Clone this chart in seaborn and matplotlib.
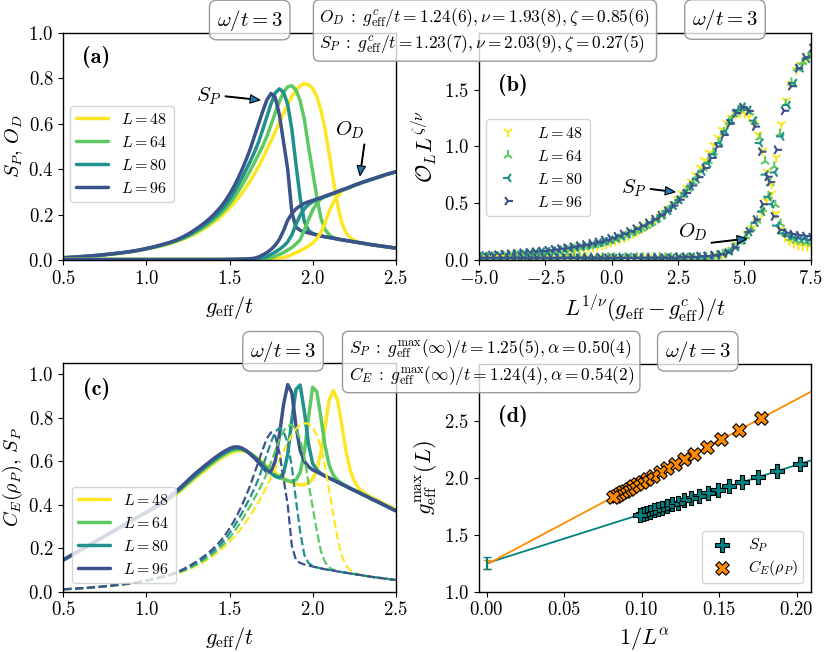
import numpy as np
import pandas as pd
import seaborn as sns
import matplotlib.pyplot as plt

sns.set_style("ticks", {"axes.edgecolor": "black", "text.color": "black",
                        "axes.labelcolor": "black", "xtick.color": "black",
                        "ytick.color": "black"})
plt.rcParams["font.family"] = "serif"
plt.rcParams["font.serif"] = ["cmr10"]
plt.rcParams["mathtext.fontset"] = "cm"
plt.rcParams["axes.formatter.use_mathtext"] = True
plt.rcParams["axes.unicode_minus"] = True

# ---- data ---------------------------------------------------------------
g_eff = np.linspace(0.5, 2.5, 81)  # g_eff/t sampling grid
L_sizes = [48, 64, 80, 96]

# S_P(g) per system size
sp_48 = [0.011, 0.012, 0.013, 0.014, 0.015, 0.016, 0.017, 0.019, 0.020, 0.022,
         0.024, 0.025, 0.027, 0.029, 0.032, 0.034, 0.036, 0.039, 0.042, 0.046,
         0.049, 0.053, 0.057, 0.061, 0.065, 0.070, 0.075, 0.081, 0.087, 0.094,
         0.102, 0.110, 0.119, 0.129, 0.140, 0.152, 0.165, 0.179, 0.194, 0.211,
         0.230, 0.250, 0.272, 0.296, 0.322, 0.350, 0.380, 0.412, 0.448, 0.487,
         0.525, 0.565, 0.605, 0.645, 0.685, 0.720, 0.748, 0.767, 0.775, 0.772,
         0.755, 0.720, 0.660, 0.575, 0.465, 0.350, 0.245, 0.165, 0.122, 0.100,
         0.088, 0.080, 0.075, 0.072, 0.069, 0.066, 0.064, 0.061, 0.059, 0.056,
         0.054]
sp_64 = [0.011, 0.012, 0.013, 0.014, 0.015, 0.016, 0.018, 0.019, 0.021, 0.022,
         0.024, 0.026, 0.028, 0.030, 0.033, 0.035, 0.037, 0.040, 0.043, 0.047,
         0.050, 0.054, 0.058, 0.062, 0.067, 0.072, 0.077, 0.083, 0.090, 0.097,
         0.105, 0.114, 0.124, 0.135, 0.147, 0.160, 0.174, 0.190, 0.207, 0.226,
         0.248, 0.272, 0.300, 0.330, 0.362, 0.395, 0.430, 0.465, 0.502, 0.545,
         0.595, 0.648, 0.698, 0.738, 0.762, 0.767, 0.748, 0.700, 0.620, 0.500,
         0.390, 0.280, 0.185, 0.135, 0.112, 0.099, 0.094, 0.090, 0.087, 0.084,
         0.081, 0.078, 0.075, 0.072, 0.069, 0.066, 0.064, 0.061, 0.059, 0.056,
         0.054]
sp_80 = [0.011, 0.012, 0.013, 0.014, 0.016, 0.017, 0.018, 0.020, 0.021, 0.023,
         0.025, 0.027, 0.029, 0.031, 0.033, 0.035, 0.038, 0.041, 0.044, 0.047,
         0.051, 0.055, 0.059, 0.064, 0.069, 0.074, 0.080, 0.086, 0.093, 0.101,
         0.110, 0.120, 0.131, 0.143, 0.156, 0.170, 0.185, 0.202, 0.221, 0.243,
         0.268, 0.296, 0.328, 0.362, 0.398, 0.435, 0.475, 0.520, 0.575, 0.632,
         0.688, 0.735, 0.753, 0.738, 0.685, 0.575, 0.420, 0.275, 0.170, 0.132,
         0.118, 0.112, 0.107, 0.103, 0.100, 0.097, 0.093, 0.090, 0.087, 0.084,
         0.081, 0.078, 0.075, 0.072, 0.069, 0.066, 0.064, 0.061, 0.059, 0.056,
         0.054]
sp_96 = [0.011, 0.012, 0.013, 0.014, 0.016, 0.017, 0.018, 0.020, 0.021, 0.023,
         0.025, 0.027, 0.029, 0.031, 0.033, 0.036, 0.038, 0.041, 0.044, 0.048,
         0.052, 0.056, 0.060, 0.065, 0.070, 0.075, 0.081, 0.088, 0.096, 0.105,
         0.115, 0.126, 0.138, 0.151, 0.165, 0.180, 0.197, 0.216, 0.237, 0.262,
         0.290, 0.322, 0.358, 0.398, 0.442, 0.490, 0.545, 0.600, 0.655, 0.705,
         0.733, 0.715, 0.640, 0.520, 0.400, 0.210, 0.145, 0.132, 0.125, 0.120,
         0.116, 0.111, 0.107, 0.103, 0.100, 0.097, 0.093, 0.090, 0.087, 0.084,
         0.081, 0.078, 0.075, 0.072, 0.069, 0.066, 0.064, 0.061, 0.059, 0.056,
         0.054]

# O_D(g) per system size
od_48 = [0.004, 0.004, 0.004, 0.004, 0.004, 0.004, 0.004, 0.004, 0.004, 0.004,
         0.004, 0.004, 0.004, 0.004, 0.004, 0.004, 0.004, 0.004, 0.004, 0.004,
         0.004, 0.004, 0.004, 0.004, 0.004, 0.004, 0.004, 0.004, 0.004, 0.004,
         0.004, 0.004, 0.004, 0.004, 0.004, 0.004, 0.004, 0.004, 0.004, 0.004,
         0.004, 0.004, 0.004, 0.004, 0.004, 0.004, 0.004, 0.004, 0.004, 0.004,
         0.005, 0.007, 0.009, 0.013, 0.017, 0.025, 0.034, 0.042, 0.051, 0.062,
         0.075, 0.095, 0.122, 0.164, 0.217, 0.255, 0.282, 0.304, 0.313, 0.320,
         0.328, 0.335, 0.342, 0.348, 0.354, 0.360, 0.366, 0.372, 0.378, 0.383,
         0.388]
od_64 = [0.004, 0.004, 0.004, 0.004, 0.004, 0.004, 0.004, 0.004, 0.004, 0.004,
         0.004, 0.004, 0.004, 0.004, 0.004, 0.004, 0.004, 0.004, 0.004, 0.004,
         0.004, 0.004, 0.004, 0.004, 0.004, 0.004, 0.004, 0.004, 0.004, 0.004,
         0.004, 0.004, 0.004, 0.004, 0.004, 0.004, 0.004, 0.004, 0.004, 0.004,
         0.004, 0.004, 0.004, 0.004, 0.004, 0.004, 0.005, 0.006, 0.007, 0.009,
         0.011, 0.018, 0.026, 0.034, 0.045, 0.056, 0.072, 0.090, 0.132, 0.178,
         0.220, 0.250, 0.270, 0.279, 0.286, 0.293, 0.300, 0.307, 0.314, 0.321,
         0.328, 0.335, 0.342, 0.348, 0.354, 0.360, 0.366, 0.372, 0.378, 0.383,
         0.388]
od_80 = [0.003, 0.003, 0.003, 0.003, 0.003, 0.003, 0.003, 0.003, 0.003, 0.003,
         0.003, 0.003, 0.003, 0.003, 0.003, 0.003, 0.003, 0.003, 0.003, 0.003,
         0.003, 0.003, 0.003, 0.003, 0.003, 0.003, 0.003, 0.003, 0.003, 0.003,
         0.003, 0.003, 0.003, 0.003, 0.003, 0.003, 0.003, 0.003, 0.003, 0.003,
         0.003, 0.003, 0.004, 0.004, 0.004, 0.005, 0.006, 0.008, 0.012, 0.017,
         0.026, 0.036, 0.048, 0.062, 0.081, 0.112, 0.158, 0.198, 0.226, 0.245,
         0.257, 0.266, 0.273, 0.280, 0.287, 0.294, 0.301, 0.308, 0.314, 0.321,
         0.329, 0.335, 0.342, 0.348, 0.354, 0.360, 0.366, 0.372, 0.378, 0.383,
         0.388]
od_96 = [0.003, 0.003, 0.003, 0.003, 0.003, 0.003, 0.003, 0.003, 0.003, 0.003,
         0.003, 0.003, 0.003, 0.003, 0.003, 0.003, 0.003, 0.003, 0.003, 0.003,
         0.003, 0.003, 0.003, 0.003, 0.003, 0.003, 0.003, 0.003, 0.003, 0.003,
         0.003, 0.003, 0.003, 0.003, 0.003, 0.003, 0.003, 0.003, 0.003, 0.004,
         0.004, 0.004, 0.005, 0.005, 0.006, 0.007, 0.009, 0.015, 0.024, 0.034,
         0.048, 0.066, 0.092, 0.130, 0.176, 0.205, 0.226, 0.239, 0.250, 0.257,
         0.263, 0.269, 0.275, 0.282, 0.289, 0.295, 0.302, 0.309, 0.315, 0.322,
         0.330, 0.336, 0.343, 0.349, 0.355, 0.361, 0.367, 0.373, 0.379, 0.384,
         0.389]

# C_E(rho_P)(g) per system size
ce_48 = [0.146, 0.157, 0.168, 0.179, 0.190, 0.201, 0.212, 0.223, 0.234, 0.245,
         0.256, 0.267, 0.278, 0.289, 0.300, 0.310, 0.321, 0.332, 0.343, 0.353,
         0.363, 0.374, 0.385, 0.396, 0.407, 0.419, 0.432, 0.446, 0.461, 0.477,
         0.493, 0.510, 0.526, 0.542, 0.557, 0.572, 0.587, 0.601, 0.614, 0.626,
         0.636, 0.643, 0.647, 0.648, 0.644, 0.636, 0.624, 0.610, 0.595, 0.579,
         0.563, 0.548, 0.534, 0.521, 0.510, 0.501, 0.495, 0.491, 0.492, 0.500,
         0.518, 0.560, 0.640, 0.760, 0.880, 0.925, 0.880, 0.770, 0.650, 0.560,
         0.510, 0.478, 0.460, 0.447, 0.436, 0.426, 0.416, 0.406, 0.397, 0.388,
         0.379]
ce_64 = [0.146, 0.157, 0.168, 0.179, 0.190, 0.201, 0.212, 0.223, 0.234, 0.245,
         0.256, 0.267, 0.278, 0.289, 0.300, 0.311, 0.322, 0.333, 0.344, 0.354,
         0.364, 0.375, 0.386, 0.397, 0.409, 0.422, 0.436, 0.451, 0.467, 0.483,
         0.500, 0.517, 0.533, 0.549, 0.565, 0.580, 0.595, 0.609, 0.622, 0.634,
         0.644, 0.651, 0.655, 0.653, 0.646, 0.635, 0.621, 0.605, 0.588, 0.570,
         0.553, 0.538, 0.526, 0.517, 0.510, 0.507, 0.514, 0.548, 0.640, 0.800,
         0.940, 0.920, 0.800, 0.670, 0.580, 0.535, 0.512, 0.498, 0.487, 0.477,
         0.467, 0.458, 0.448, 0.439, 0.429, 0.420, 0.411, 0.401, 0.392, 0.382,
         0.373]
ce_80 = [0.146, 0.157, 0.168, 0.179, 0.190, 0.201, 0.212, 0.223, 0.234, 0.245,
         0.256, 0.267, 0.278, 0.289, 0.300, 0.311, 0.322, 0.333, 0.344, 0.355,
         0.365, 0.376, 0.387, 0.399, 0.412, 0.425, 0.439, 0.455, 0.471, 0.488,
         0.506, 0.523, 0.540, 0.556, 0.572, 0.587, 0.602, 0.616, 0.629, 0.641,
         0.651, 0.658, 0.660, 0.657, 0.648, 0.635, 0.619, 0.601, 0.582, 0.563,
         0.545, 0.530, 0.523, 0.545, 0.630, 0.790, 0.930, 0.950, 0.830, 0.680,
         0.590, 0.560, 0.543, 0.532, 0.522, 0.513, 0.504, 0.494, 0.485, 0.475,
         0.466, 0.457, 0.447, 0.438, 0.428, 0.419, 0.410, 0.400, 0.391, 0.381,
         0.372]
ce_96 = [0.146, 0.157, 0.168, 0.179, 0.190, 0.201, 0.212, 0.223, 0.234, 0.245,
         0.256, 0.267, 0.278, 0.289, 0.300, 0.311, 0.322, 0.333, 0.344, 0.355,
         0.366, 0.377, 0.389, 0.401, 0.414, 0.428, 0.443, 0.459, 0.476, 0.494,
         0.512, 0.530, 0.547, 0.563, 0.579, 0.594, 0.609, 0.623, 0.636, 0.648,
         0.658, 0.665, 0.666, 0.660, 0.648, 0.632, 0.614, 0.594, 0.572, 0.550,
         0.552, 0.600, 0.720, 0.860, 0.952, 0.915, 0.760, 0.650, 0.600, 0.575,
         0.560, 0.551, 0.541, 0.532, 0.522, 0.513, 0.504, 0.494, 0.485, 0.475,
         0.466, 0.457, 0.447, 0.438, 0.428, 0.419, 0.410, 0.400, 0.391, 0.381,
         0.372]

# finite-size scaling parameters quoted in the figure
gc_od, nu_od, zeta_od = 1.24, 1.93, 0.85
gc_sp, nu_sp, zeta_sp = 1.23, 2.03, 0.27

# panel (d): peak positions vs 1/L^alpha
L_peak = [24, 28, 32, 36, 40, 44, 48, 52, 56, 60,
          64, 68, 72, 76, 80, 84, 88, 92, 96, 100]
gmax_sp = [2.121, 2.056, 2.004, 1.961, 1.924, 1.893, 1.865, 1.840, 1.819, 1.800,
           1.782, 1.766, 1.751, 1.738, 1.725, 1.714, 1.703, 1.693, 1.684, 1.675]
gmax_ce = [2.521, 2.418, 2.335, 2.267, 2.209, 2.161, 2.118, 2.081, 2.047, 2.018,
           1.990, 1.966, 1.944, 1.923, 1.905, 1.887, 1.871, 1.856, 1.842, 1.829]
alpha_sp, alpha_ce = 0.503, 0.545
fit_sp = (1.25, 4.31)   # intercept, slope
fit_ce = (1.24, 7.24)
err_sp, err_ce = 0.05, 0.04

labels = [rf"$L = {L}$" for L in L_sizes]
palette = ["#fde725", "#5ec962", "#21918c", "#3b528b"]

frames = []
for L, lab, sp, od, ce in zip(L_sizes, labels, [sp_48, sp_64, sp_80, sp_96],
                              [od_48, od_64, od_80, od_96],
                              [ce_48, ce_64, ce_80, ce_96]):
    frames.append(pd.DataFrame({"g": g_eff, "L": lab, "size": L,
                                "S_P": sp, "O_D": od, "C_E": ce}))
df = pd.concat(frames, ignore_index=True)

df["x_sp"] = df["size"] ** (1 / nu_sp) * (df["g"] - gc_sp)
df["y_sp"] = df["S_P"] * df["size"] ** (zeta_sp / nu_sp)
df["x_od"] = df["size"] ** (1 / nu_od) * (df["g"] - gc_od)
df["y_od"] = df["O_D"] * df["size"] ** (zeta_od / nu_od)

peaks = pd.DataFrame({"L": L_peak, "gmax_sp": gmax_sp, "gmax_ce": gmax_ce})
peaks["x_sp"] = 1 / peaks["L"] ** alpha_sp
peaks["x_ce"] = 1 / peaks["L"] ** alpha_ce
fit = pd.DataFrame({"x": [0.0, 0.22]})
fit["sp"] = fit_sp[0] + fit_sp[1] * fit["x"]
fit["ce"] = fit_ce[0] + fit_ce[1] * fit["x"]

# ---- figure ---------------------------------------------------------------
fig = plt.figure(figsize=(8.31, 6.52), dpi=100)
ax_a = fig.add_axes([0.0762, 0.6008, 0.4000, 0.3491])
ax_b = fig.add_axes([0.5764, 0.6008, 0.3992, 0.3491])
ax_c = fig.add_axes([0.0762, 0.0925, 0.4000, 0.3503])
ax_d = fig.add_axes([0.5764, 0.0925, 0.3992, 0.3497])

tick_fs, label_fs, ylab_fs, leg_fs = 13.5, 16, 14.5, 11.5
arrow = dict(facecolor="C0", edgecolor="black", width=0.6, headwidth=6,
             headlength=7, lw=0.8)
panel_font = dict(fontfamily="cmb10", fontsize=16, ha="center", va="center")

# (a)
sns.lineplot(data=df, x="g", y="S_P", hue="L", hue_order=labels, palette=palette,
             lw=2.5, errorbar=None, legend=False, ax=ax_a)
sns.lineplot(data=df, x="g", y="O_D", hue="L", hue_order=labels, palette=palette,
             lw=2.5, errorbar=None, legend=False, ax=ax_a)
ax_a.legend(ax_a.lines[:4], labels, loc="upper left", bbox_to_anchor=(0.02, 0.68),
            borderaxespad=0, fontsize=leg_fs)
ax_a.set(xlim=(0.5, 2.5), ylim=(0, 1.0))
ax_a.set_xticks([0.5, 1.0, 1.5, 2.0, 2.5])
ax_a.set_yticks([0.0, 0.2, 0.4, 0.6, 0.8, 1.0])
ax_a.set_xlabel(r"$g_{\rm eff}/t$", fontsize=label_fs)
ax_a.set_ylabel(r"$S_P$, $O_D$", fontsize=ylab_fs, labelpad=2)
ax_a.annotate(r"$S_P$", xy=(1.683, 0.704), xytext=(1.377, 0.722), ha="center",
              va="center", fontsize=15, arrowprops=arrow)
ax_a.annotate(r"$O_D$", xy=(2.285, 0.372), xytext=(2.225, 0.572), ha="center",
              va="center", fontsize=15, arrowprops=arrow)
ax_a.text(0.10, 0.893, "(a)", transform=ax_a.transAxes, **panel_font)

# (b)
markers = dict(zip(labels, ["1", "2", "3", "4"]))
sns.scatterplot(data=df, x="x_sp", y="y_sp", hue="L", style="L", hue_order=labels,
                style_order=labels, palette=palette, markers=markers, s=55,
                linewidth=1.5, edgecolor=None, ax=ax_b)
sns.scatterplot(data=df, x="x_od", y="y_od", hue="L", style="L", hue_order=labels,
                style_order=labels, palette=palette, markers=markers, s=55,
                linewidth=1.5, edgecolor=None, legend=False, ax=ax_b)
sns.move_legend(ax_b, "upper left", bbox_to_anchor=(0.021, 0.62), borderaxespad=0,
                title=None, fontsize=leg_fs, frameon=True)
ax_b.set(xlim=(-5, 7.5), ylim=(0, 2.0))
ax_b.set_xticks([-5.0, -2.5, 0.0, 2.5, 5.0, 7.5])
ax_b.set_yticks([0.0, 0.5, 1.0, 1.5])
ax_b.set_xlabel(r"$L^{1/\nu}(g_{\rm eff} - g^c_{\rm eff})/t$", fontsize=label_fs)
ax_b.set_ylabel(r"$\mathcal{O}_L L^{\zeta/\nu}$", fontsize=label_fs)
ax_b.annotate(r"$S_P$", xy=(2.385, 0.60), xytext=(0.85, 0.63), ha="center",
              va="center", fontsize=15, arrowprops=arrow)
ax_b.annotate(r"$O_D$", xy=(5.09, 0.19), xytext=(3.07, 0.245), ha="center",
              va="center", fontsize=15, arrowprops=arrow)
ax_b.text(0.103, 0.77, "(b)", transform=ax_b.transAxes, **panel_font)

# (c)
sns.lineplot(data=df, x="g", y="C_E", hue="L", hue_order=labels, palette=palette,
             lw=2.5, errorbar=None, legend=False, ax=ax_c)
sns.lineplot(data=df, x="g", y="S_P", hue="L", hue_order=labels, palette=palette,
             lw=1.6, linestyle="--", errorbar=None, legend=False, ax=ax_c)
ax_c.legend(ax_c.lines[:4], labels, loc="lower left", bbox_to_anchor=(0.025, 0.037),
            borderaxespad=0, fontsize=leg_fs)
ax_c.set(xlim=(0.5, 2.5), ylim=(0, 1.05))
ax_c.set_xticks([0.5, 1.0, 1.5, 2.0, 2.5])
ax_c.set_yticks([0.0, 0.2, 0.4, 0.6, 0.8, 1.0])
ax_c.set_xlabel(r"$g_{\rm eff}/t$", fontsize=label_fs)
ax_c.set_ylabel(r"$C_E(\rho_P)$, $S_P$", fontsize=ylab_fs, labelpad=2)
ax_c.text(0.10, 0.886, "(c)", transform=ax_c.transAxes, **panel_font)

# (d)
sns.lineplot(data=fit, x="x", y="sp", color="teal", lw=1.3, ax=ax_d)
sns.lineplot(data=fit, x="x", y="ce", color="darkorange", lw=1.3, ax=ax_d)
ax_d.errorbar([0.0], [fit_ce[0]], yerr=[err_ce], color="darkorange", capsize=3,
              lw=1.5, fmt="none")
ax_d.errorbar([0.0], [fit_sp[0]], yerr=[err_sp], color="teal", capsize=3,
              lw=1.5, fmt="none")
sns.scatterplot(data=peaks, x="x_sp", y="gmax_sp", marker="P", color="teal",
                edgecolor="black", linewidth=0.8, s=95, label=r"$S_P$", zorder=3,
                ax=ax_d)
sns.scatterplot(data=peaks, x="x_ce", y="gmax_ce", marker="X", color="darkorange",
                edgecolor="black", linewidth=0.8, s=95, label=r"$C_E(\rho_P)$",
                zorder=3, ax=ax_d)
ax_d.legend(loc="lower right", bbox_to_anchor=(0.976, 0.037), borderaxespad=0,
            fontsize=leg_fs, handletextpad=0.6, labelspacing=0.3, borderpad=0.3)
ax_d.set(xlim=(-0.005, 0.209), ylim=(1.0, 3.0))
ax_d.set_xticks([0.0, 0.05, 0.10, 0.15, 0.20])
ax_d.set_yticks([1.0, 1.5, 2.0, 2.5])
ax_d.set_xlabel(r"$1/L^\alpha$", fontsize=label_fs)
ax_d.set_ylabel(r"$g^{\rm max}_{\rm eff}(L)$", fontsize=label_fs)
ax_d.text(0.103, 0.77, "(d)", transform=ax_d.transAxes, **panel_font)

for ax in (ax_a, ax_b, ax_c, ax_d):
    ax.tick_params(labelsize=tick_fs)
    for s in ax.spines.values():
        s.set_color("black")
        s.set_linewidth(1.0)

box = dict(boxstyle="round,pad=0.35", facecolor=(1, 1, 1, 0.8), edgecolor="0.6")
omega = r"$\omega/t = 3$"
fig.text(0.3005, 0.9693, omega, ha="center", va="center", fontsize=15, bbox=box)
fig.text(0.8724, 0.9701, omega, ha="center", va="center", fontsize=15, bbox=box)
fig.text(0.3406, 0.4612, omega, ha="center", va="center", fontsize=15, bbox=box)
fig.text(0.8397, 0.4612, omega, ha="center", va="center", fontsize=15, bbox=box)
fig.text(0.5836, 0.9532,
         r"$O_D\;:\;g^c_{\rm eff}/t = 1.24(6), \nu = 1.93(8), \zeta = 0.85(6)$" "\n"
         r"$S_P\;:\;g^c_{\rm eff}/t = 1.23(7), \nu = 2.03(9), \zeta = 0.27(5)$",
         ha="center", va="center", multialignment="left", fontsize=12.5, bbox=box)
fig.text(0.5911, 0.4448,
         r"$S_P\;:\;g^{\rm max}_{\rm eff}(\infty)/t = 1.25(5), \alpha = 0.50(4)$" "\n"
         r"$C_E\;:\;g^{\rm max}_{\rm eff}(\infty)/t = 1.24(4), \alpha = 0.54(2)$",
         ha="center", va="center", multialignment="left", fontsize=12.5, bbox=box)

fig.savefig("out.png", dpi=100)
